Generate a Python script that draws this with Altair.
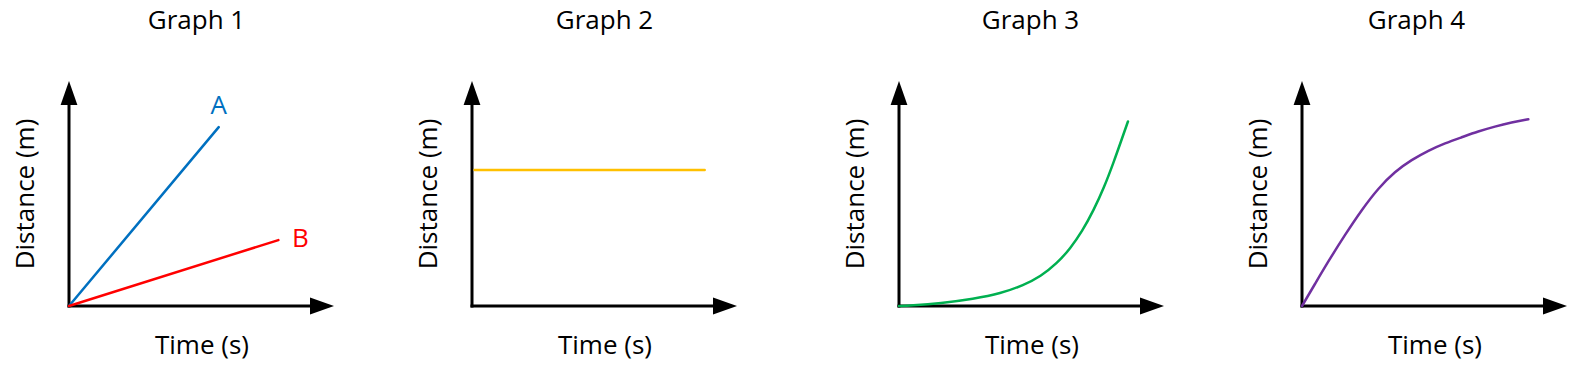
import altair as alt
import pandas as pd

FONT = "Open Sans"
FS = 26

# ---------------- data ----------------
panel_titles = ["Graph 1", "Graph 2", "Graph 3", "Graph 4"]
x_title = "Time (s)"
y_title = "Distance (m)"

axis_tip = 10.0          # arrow tips (data units) on both axes
axis_line_end_x = 9.5
axis_line_end_y = 9.4

# Graph 1
a_time = [0.0, 5.65]
a_dist = [0.0, 7.95]
b_time = [0.0, 7.90]
b_dist = [0.0, 2.93]
line_labels = ["A", "B"]

# Graph 2
g2_time = [0.10, 8.78]
g2_dist = [6.04, 6.04]

# Graph 3
g3_time = [0.0, 0.43, 1.57, 2.82, 3.83, 4.71, 5.34, 5.97, 6.47, 6.91, 7.35, 7.73, 8.11, 8.42, 8.64]
g3_dist = [0.0, 0.02, 0.12, 0.32, 0.55, 0.93, 1.31, 1.90, 2.57, 3.31, 4.27, 5.24, 6.42, 7.46, 8.20]

# Graph 4
g4_time = [0.0, 0.50, 0.99, 1.62, 2.25, 2.88, 3.51, 4.14, 4.77, 5.40, 6.03, 6.65, 7.28, 7.91, 8.54]
g4_dist = [0.0, 1.00, 1.98, 3.16, 4.27, 5.24, 5.98, 6.50, 6.91, 7.24, 7.50, 7.76, 7.98, 8.16, 8.30]

# ---------------- styles ----------------
COL_A = "#0070C0"
COL_B = "#FF0000"
COL_2 = "#FFC000"
COL_3 = "#00B050"
COL_4 = "#7030A0"

ARROW_R = "M0,0L-2,-0.7L-2,0.7Z"
ARROW_U = "M0,0L-0.7,2L0.7,2Z"

AXIS_LEN = 265
PLOT_H = 225
widths = [265, 289, 265, 265]
title_dx = [-5, -12, -1, -18]

X_SCALE = alt.Scale(domain=[0, axis_tip], range=[0, AXIS_LEN], nice=False, zero=True)
Y_SCALE = alt.Scale(domain=[0, axis_tip], nice=False, zero=True)
X_AXIS = alt.Axis(title=x_title)
Y_AXIS = alt.Axis(title=y_title)


def xenc(field):
    return alt.X(f"{field}:Q", scale=X_SCALE, axis=X_AXIS)


def yenc(field):
    return alt.Y(f"{field}:Q", scale=Y_SCALE, axis=Y_AXIS)


def frame_layers():
    axes_df = pd.DataFrame({
        "x": [0.0, 0.0], "y": [0.0, 0.0],
        "x2": [axis_line_end_x, 0.0], "y2": [0.0, axis_line_end_y],
    })
    rules = alt.Chart(axes_df).mark_rule(
        color="black", strokeWidth=3, strokeCap="square"
    ).encode(x=xenc("x"), x2="x2:Q", y=yenc("y"), y2="y2:Q")

    heads_df = pd.DataFrame({"x": [axis_tip, 0.0], "y": [0.0, axis_tip], "dir": ["right", "up"]})
    heads = alt.Chart(heads_df).mark_point(
        filled=True, color="black", opacity=1, strokeWidth=0, size=576
    ).encode(
        x=xenc("x"), y=yenc("y"),
        shape=alt.Shape("dir:N", scale=alt.Scale(domain=["right", "up"], range=[ARROW_R, ARROW_U]), legend=None),
    )
    return [rules, heads]


def series(time, dist, color):
    df = pd.DataFrame({"t": time, "d": dist})
    return alt.Chart(df).mark_line(
        color=color, strokeWidth=2.5, interpolate="basis", strokeCap="round"
    ).encode(x=xenc("t"), y=yenc("d"))


def end_label(time, dist, text, color, dx, dy):
    df = pd.DataFrame({"t": [time[-1]], "d": [dist[-1]], "lab": [text]})
    return alt.Chart(df).mark_text(
        font=FONT, fontSize=FS, color=color, dx=dx, dy=dy, baseline="middle", align="center"
    ).encode(x=xenc("t"), y=yenc("d"), text="lab:N")


def panel(i, layers):
    return alt.layer(*frame_layers(), *layers).properties(
        width=widths[i], height=PLOT_H,
        title=alt.TitleParams(
            panel_titles[i], fontSize=FS, font=FONT, fontWeight="normal", color="black",
            frame="group", anchor="middle", dx=title_dx[i], offset=26, baseline="alphabetic",
        ),
    )


p1 = panel(0, [
    series(a_time, a_dist, COL_A),
    series(b_time, b_dist, COL_B),
    end_label(a_time, a_dist, line_labels[0], COL_A, 0, -21),
    end_label(b_time, b_dist, line_labels[1], COL_B, 22, -1),
])
p2 = panel(1, [series(g2_time, g2_dist, COL_2)])
p3 = panel(2, [series(g3_time, g3_dist, COL_3)])
p4 = panel(3, [series(g4_time, g4_dist, COL_4)])

chart = alt.hconcat(p1, p2, p3, p4, spacing=138, bounds="flush").properties(
    padding={"left": 12, "top": 8, "right": 0, "bottom": 10},
    background="white",
).configure_view(stroke=None).configure_axis(
    labels=False, ticks=False, domain=False, grid=False, minExtent=0,
    titleFont=FONT, titleFontSize=FS, titleFontWeight="normal", titleColor="black",
).configure_axisX(titlePadding=26).configure_axisY(titlePadding=31)

chart.save("out.html", embed_options={"renderer": "svg", "actions": False})
